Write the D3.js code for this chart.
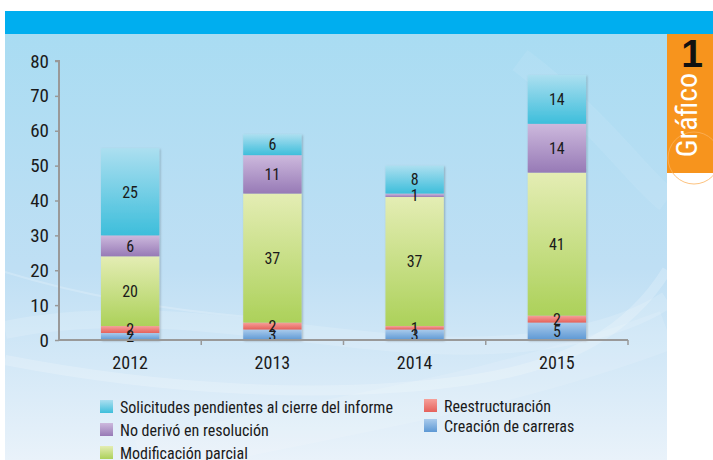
<!DOCTYPE html>
<html>
<head>
<meta charset="utf-8">
<script src="https://cdn.jsdelivr.net/npm/d3@7"></script>
<style>
  body { margin: 0; background: #fff; }
  svg text { font-family: "Roboto Condensed", "Liberation Sans Narrow", sans-serif; fill: #1a1a1a; }
</style>
</head>
<body>
<svg width="713" height="460"></svg>
<script>
// data
var years = ["2012", "2013", "2014", "2015"];
var creacion = [2, 3, 3, 5];
var reestructuracion = [2, 2, 1, 2];
var modificacion = [20, 37, 37, 41];
var noDerivo = [6, 11, 1, 14];
var solicitudes = [25, 6, 8, 14];
var yTicks = [0, 10, 20, 30, 40, 50, 60, 70, 80];

var seriesInfo = [
  { key: "creacion", name: "Creación de carreras", vals: creacion, c1: "#aacbec", c2: "#5d98d4" },
  { key: "reest", name: "Reestructuración", vals: reestructuracion, c1: "#f6a09a", c2: "#e5615b" },
  { key: "modif", name: "Modificación parcial", vals: modificacion, c1: "#e4edb4", c2: "#acd15a" },
  { key: "noder", name: "No derivó en resolución", vals: noDerivo, c1: "#cdb9dd", c2: "#977ab6" },
  { key: "solic", name: "Solicitudes pendientes al cierre del informe", vals: solicitudes, c1: "#acdff0", c2: "#3dbedb" }
];

var svg = d3.select("svg");
var defs = svg.append("defs");

// background
var bg = defs.append("linearGradient").attr("id", "bg").attr("x1", 0).attr("y1", 0).attr("x2", 0).attr("y2", 1);
bg.append("stop").attr("offset", "0%").attr("stop-color", "#a9dcf2");
bg.append("stop").attr("offset", "55%").attr("stop-color", "#bfdff4");
bg.append("stop").attr("offset", "100%").attr("stop-color", "#e9f2fa");

seriesInfo.forEach(function(s) {
  var g = defs.append("linearGradient").attr("id", "g-" + s.key)
    .attr("x1", 0).attr("y1", 0).attr("x2", 0).attr("y2", 1);
  g.append("stop").attr("offset", "0%").attr("stop-color", s.c1);
  g.append("stop").attr("offset", "100%").attr("stop-color", s.c2);
});

var shadow = defs.append("filter").attr("id", "shadow").attr("x", "-20%").attr("y", "-20%").attr("width", "140%").attr("height", "140%");
shadow.append("feDropShadow").attr("dx", 1).attr("dy", 1).attr("stdDeviation", 1.2)
  .attr("flood-color", "#000").attr("flood-opacity", 0.25);

svg.append("rect").attr("x", 5).attr("y", 34).attr("width", 662).attr("height", 426).attr("fill", "url(#bg)");

// swooshes
var sw = svg.append("g").attr("fill", "none").attr("stroke", "#fff");
sw.append("path").attr("d", "M5,330 C150,300 300,340 430,345 C540,350 620,330 667,300")
  .attr("stroke-width", 18).attr("stroke-opacity", 0.15);
sw.append("path").attr("d", "M5,360 C160,390 330,400 470,380 C570,365 630,330 667,270")
  .attr("stroke-width", 10).attr("stroke-opacity", 0.2);
sw.append("path").attr("d", "M5,272 C80,295 160,310 260,318")
  .attr("stroke-width", 2).attr("stroke-opacity", 0.2);
sw.append("path").attr("d", "M140,460 C300,420 480,400 667,330")
  .attr("stroke-width", 40).attr("stroke-opacity", 0.12);
sw.append("path").attr("d", "M520,60 C600,120 640,180 667,200")
  .attr("stroke-width", 25).attr("stroke-opacity", 0.08);

// header bar
svg.append("rect").attr("x", 5).attr("y", 11).attr("width", 708).attr("height", 23).attr("fill", "#00aeef");

// scales
var x = d3.scaleBand().domain(years).range([59, 628]).paddingInner(0.59).paddingOuter(0.295);
var y = d3.scaleLinear().domain([0, 80]).range([340, 61]);

var stack = d3.stack().keys(seriesInfo.map(function(s) { return s.key; }));
var table = years.map(function(yr, i) {
  var row = { year: yr };
  seriesInfo.forEach(function(s) { row[s.key] = s.vals[i]; });
  return row;
});
var layers = stack(table);

// bars
var barsG = svg.append("g").attr("filter", "url(#shadow)");
layers.forEach(function(layer, li) {
  barsG.append("g").attr("fill", "url(#g-" + seriesInfo[li].key + ")")
    .selectAll("rect").data(layer).enter().append("rect")
    .attr("x", function(d) { return x(d.data.year); })
    .attr("width", x.bandwidth())
    .attr("y", function(d) { return y(d[1]); })
    .attr("height", function(d) { return y(d[0]) - y(d[1]); });
});

// bar labels
layers.forEach(function(layer) {
  svg.append("g").selectAll("text").data(layer).enter().append("text")
    .attr("x", function(d) { return x(d.data.year) + x.bandwidth() / 2; })
    .attr("y", function(d) { return y((d[0] + d[1]) / 2); })
    .attr("dy", "0.36em")
    .attr("text-anchor", "middle")
    .attr("font-size", 16)
    .text(function(d) { return d[1] - d[0]; });
});

// y axis
var yAxis = svg.append("g").attr("transform", "translate(59,0)")
  .call(d3.axisLeft(y).tickValues(yTicks).tickSize(4).tickPadding(6));
yAxis.select(".domain").attr("stroke", "#999").attr("stroke-width", 2).attr("d", "M-4,61H0V340");
yAxis.selectAll(".tick line").attr("stroke", "#999").attr("stroke-width", 1.5);
yAxis.selectAll(".tick text").attr("font-size", 19).attr("fill", "#1a1a1a")
  .style("font-family", "'Roboto Condensed', sans-serif");

// x axis
var xAxis = svg.append("g").attr("transform", "translate(0,340)")
  .call(d3.axisBottom(x).tickSize(0).tickPadding(16));
xAxis.select(".domain").attr("stroke", "#999").attr("stroke-width", 2).attr("d", "M59,0H628");
xAxis.selectAll(".tick text").attr("font-size", 18).attr("fill", "#1a1a1a")
  .style("font-family", "'Roboto Condensed', sans-serif");
var sep = years.map(function(yr) { return x(yr) - x.step() * x.paddingInner() / 2; }).slice(1);
sep.push(628);
xAxis.selectAll(".sep").data(sep).enter().append("line")
  .attr("x1", function(d) { return d; }).attr("x2", function(d) { return d; })
  .attr("y1", 0).attr("y2", 5).attr("stroke", "#999").attr("stroke-width", 1.5);

// legend
var legendPos = [
  { s: 4, x: 100, y: 407 },
  { s: 3, x: 100, y: 430 },
  { s: 2, x: 100, y: 453 },
  { s: 1, x: 424, y: 406 },
  { s: 0, x: 424, y: 426 }
];
var lg = svg.append("g");
legendPos.forEach(function(p) {
  var s = seriesInfo[p.s];
  lg.append("rect").attr("x", p.x).attr("y", p.y - 7).attr("width", 13).attr("height", 13)
    .attr("fill", "url(#g-" + s.key + ")");
  lg.append("text").attr("x", p.x + 20).attr("y", p.y).attr("dy", "0.36em")
    .attr("font-size", 16).text(s.name);
});

// badge
svg.append("rect").attr("x", 667).attr("y", 34).attr("width", 46).attr("height", 139).attr("fill", "#f7941d");
svg.append("circle").attr("cx", 694).attr("cy", 158).attr("r", 26)
  .attr("fill", "none").attr("stroke", "#fbb25e").attr("stroke-width", 0.8);
svg.append("text").attr("x", 692).attr("y", 67).attr("text-anchor", "middle")
  .attr("font-size", 39).attr("font-weight", "bold")
  .style("font-family", "'Liberation Sans', Arial, sans-serif").style("fill", "#111").text("1");
svg.append("text").attr("transform", "translate(697,115) rotate(-90)")
  .attr("text-anchor", "middle").attr("font-size", 30)
  .style("fill", "#fff").text("Gráfico");
</script>
</body>
</html>
